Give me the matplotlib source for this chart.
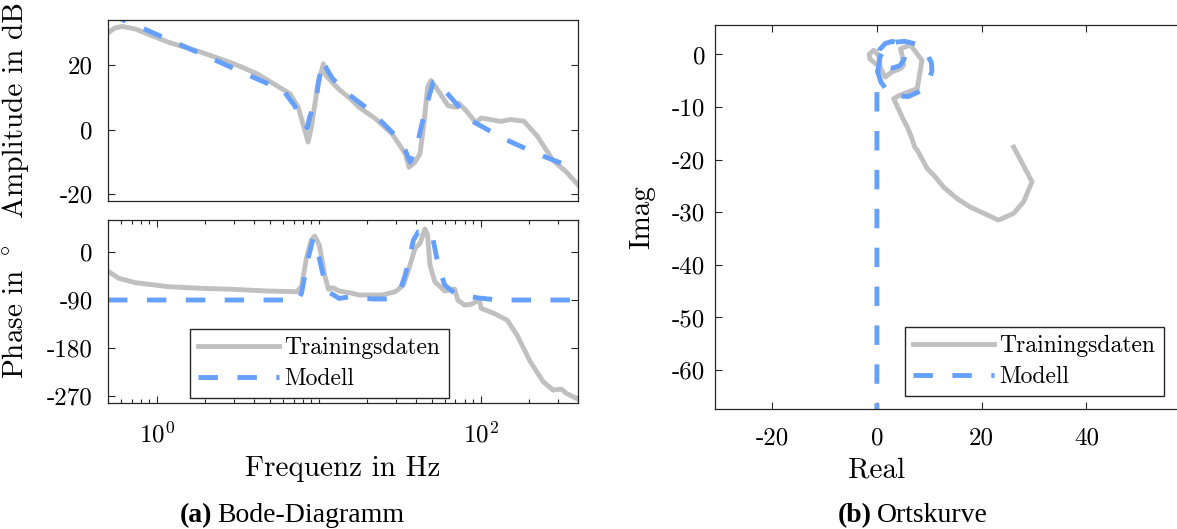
import matplotlib
matplotlib.use("Agg")
import matplotlib.pyplot as plt
import warnings
warnings.simplefilter("ignore")

plt.rcParams['font.family'] = 'serif'
plt.rcParams['font.serif'] = ['cmr10', 'DejaVu Serif']
plt.rcParams['mathtext.fontset'] = 'cm'
plt.rcParams['axes.unicode_minus'] = False
plt.rcParams['axes.formatter.use_mathtext'] = False

# Messdaten (Trainingsdaten): Amplitudengang
freq_meas_amp = [0.50, 0.55, 0.612, 0.738, 1.18, 1.88, 3.0, 4.17, 5.52, 6.65, 7.48, 8.22, 8.61,
                 9.02, 9.9, 10.7, 11.1, 13.4, 15.5, 17.8, 22.5, 28.4, 34.3, 36.2, 39.4, 42.3,
                 44.9, 47.1, 49.4, 52.2, 63.0, 70.8, 73.2, 81.3, 93.6, 101, 133, 153, 185,
                 223, 281, 339, 400]
amp_meas = [30.0, 31.5, 32.0, 31.2, 27.1, 24.0, 20.4, 17.3, 13.6, 11.1, 6.9, -0.3, -3.9,
            0.7, 14.2, 20.4, 16.7, 12.4, 9.8, 6.9, 3.3, -1.3, -7.5, -11.7, -10.1, -7.5,
            2.8, 13.1, 15.2, 13.6, 7.4, 6.9, 8.2, 5.9, 2.1, 3.6, 2.5, 3.1, 2.6,
            -1.9, -9.6, -13.2, -17.2]

# Modell: Amplitudengang
freq_mod_amp = [0.50, 0.672, 1.88, 4.17, 6.06, 7.1, 8.0, 8.5, 8.8, 9.7, 10.0, 10.6, 11.3,
                12.2, 14.7, 21.4, 29.8, 34.3, 36.7, 40.3, 45.4, 51.0, 54.7, 60.1, 87.3,
                140, 223, 400]
amp_mod = [36.0, 33.3, 23.5, 15.7, 12.1, 7.4, 2.8, 0.5, 3.8, 10.0, 15.0, 21.4, 18.5,
           15.8, 11.6, 5.4, -1.9, -6.5, -10.1, -5.5, 5.9, 14.7, 15.0, 12.1, 2.8,
           -2.9, -7.5, -12.5]

# Messdaten: Phasengang
freq_meas_ph = [0.50, 0.584, 0.738, 1.18, 1.88, 3.0, 4.8, 7.31, 7.84, 8.4, 9.0, 9.46, 10.1,
                10.9, 11.5, 12.2, 13.4, 15.5, 17.8, 24.7, 29.8, 33.4, 36.7, 39.4, 42.3,
                45.4, 47.1, 48.7, 52.2, 60.1, 69.2, 72.4, 79.5, 87.3, 98.2, 101, 121,
                146, 168, 203, 244, 281, 316, 339, 400]
phase_meas = [-36, -49.3, -57.5, -65, -68.1, -70, -73.1, -74.4, -65, -11.9, 22, 30, 13.1,
              -43.1, -70, -66.9, -73.1, -76.3, -80.6, -80.6, -74.4, -61.9, -24.4, 6.9, 16.3,
              43.1, 31.9, -24.4, -55.6, -73.1, -69.4, -90, -99.4, -98.1, -90, -105.6, -115,
              -127.5, -155.6, -205.6, -243.1, -258.8, -256.9, -265, -276]

# Modell: Phasengang
freq_mod_ph = [0.50, 7.45, 7.84, 8.61, 9.23, 9.9, 10.6, 11.4, 13.4, 15.5, 21.4, 26.4, 31.9,
               34.3, 36.7, 38.5, 41.3, 47.5, 51.0, 54.7, 60.1, 69.2, 95.9, 130, 400]
phase_mod = [-90, -90, -77, -12, 25, 0, -40, -74, -87, -84, -88, -88, -71,
             -43, -5.6, 22.5, 38, 38, 22.5, -24, -62, -77, -86, -90, -90]

# Ortskurve der Messdaten
re_meas = [26.1, 29.6, 28.0, 26.1, 23.2, 20.4, 17.8, 15.3, 12.7, 11.4, 10.8, 9.6, 8.9, 7.7,
           7.2, 6.7, 5.8, 5.3, 4.5, 3.2, 4.5, 7.7, 8.6, 6.4, 4.5, 4.8, 5.1, 4.5, 2.9, 1.6,
           0.7, 0.3, -0.6, -1.5, -1.3, -0.3]
im_meas = [-17.6, -24.2, -28.0, -30.2, -31.5, -30.2, -29.0, -27.4, -25.2, -23.6, -22.9, -21.7,
           -20.4, -18.2, -17.6, -16.0, -13.8, -12.9, -11.2, -8.4, -7.7, -6.5, -1.1, 1.8, 1.1,
           -0.1, -2.0, -2.7, -3.3, -4.3, -2.7, -0.1, 0.8, 0.0, -0.9, -1.7]

# Ortskurve des Modells
re_mod = [0.0, 0.0, 0.2, 0.6, 1.6, 3.2, 5.3, 7.4, 9.2, 10.4, 10.5, 9.8, 8.2, 6.0, 3.8, 2.0,
          0.8, 0.2, 0.1, 0.5, 1.6, 3.0, 4.4, 5.2, 5.2, 4.4, 3.0, 1.6, 0.6, 0.2, 0.0]
im_mod = [-70.0, -6.0, -3.0, -0.5, 1.4, 2.3, 2.5, 2.0, 0.6, -1.5, -3.2, -5.2, -7.0, -8.0,
          -7.9, -6.9, -5.3, -3.5, -1.2, 0.9, 2.1, 2.5, 1.9, 0.6, -0.9, -2.1, -2.6, -2.2,
          -1.3, -0.5, -0.1]

gray = '#c0c0c0'
blue = '#66a0ff'
dash = (0, (4.0, 4.0))
lw = 3.5
tick_font = 18
label_font = 21

fig = plt.figure(figsize=(11.77, 5.29), dpi=100)
W, H = 1177.0, 529.0
ax_amp = fig.add_axes([108 / W, 1 - 201 / H, 470 / W, 181 / H])
ax_ph = fig.add_axes([108 / W, 1 - 403 / H, 470 / W, 183 / H])
ax_ny = fig.add_axes([715 / W, 1 - 409 / H, 470 / W, 384 / H])

for ax in (ax_amp, ax_ph, ax_ny):
    for s in ax.spines.values():
        s.set_color('#262626')
        s.set_linewidth(0.9)
    ax.tick_params(which='both', direction='in', top=True, right=True,
                   color='#262626', labelsize=tick_font, width=0.8)
    ax.tick_params(which='major', length=5)
    ax.tick_params(which='minor', length=3)

# Amplitude
ax_amp.plot(freq_meas_amp, amp_meas, color=gray, lw=lw, solid_joinstyle='round')
ax_amp.plot(freq_mod_amp, amp_mod, color=blue, lw=lw, linestyle=dash)
ax_amp.set_xscale('log')
ax_amp.set_xlim(0.5, 400)
ax_amp.set_ylim(-22.2, 34)
ax_amp.set_xticks([])
ax_amp.set_xticks([], minor=True)
ax_amp.set_yticks([-20, 0, 20])
ax_amp.tick_params(axis='y', pad=11)
ax_amp.set_ylabel('Amplitude in dB', fontsize=label_font)
ax_amp.yaxis.set_label_coords(-0.168, 0.5)

# Phase
ax_ph.plot(freq_meas_ph, phase_meas, color=gray, lw=lw, label='Trainingsdaten',
           solid_joinstyle='round')
ax_ph.plot(freq_mod_ph, phase_mod, color=blue, lw=lw, linestyle=dash, label='Modell')
ax_ph.set_xscale('log')
ax_ph.set_xlim(0.5, 400)
ax_ph.set_ylim(-283, 60)
ax_ph.set_yticks([-270, -180, -90, 0])
ax_ph.set_xticks([1, 100])
minor = [m * 10.0 ** e for e in (-1, 0, 1, 2) for m in range(1, 10)]
minor = [v for v in minor if 0.5 <= v <= 400 and v not in (1, 100)]
ax_ph.set_xticks(minor, minor=True)
ax_ph.set_xticklabels([], minor=True)
ax_ph.tick_params(axis='y', pad=11)
ax_ph.tick_params(axis='x', pad=13)
ax_ph.set_ylabel('Phase in $^\\circ$', fontsize=label_font)
ax_ph.yaxis.set_label_coords(-0.168, 0.5)
ax_ph.set_xlabel('Frequenz in Hz', fontsize=label_font)
ax_ph.xaxis.set_label_coords(0.5, -0.29)

leg = ax_ph.legend(loc='upper left', bbox_to_anchor=(190 / W, 1 - 329 / H),
                   bbox_transform=fig.transFigure, fontsize=17, handlelength=3.4,
                   handletextpad=0.25, borderpad=0.35, labelspacing=0.35,
                   borderaxespad=0, fancybox=False, framealpha=1)
leg.get_frame().set_edgecolor('#262626')
leg.get_frame().set_linewidth(1.0)

# Ortskurve
ax_ny.plot(re_meas, im_meas, color=gray, lw=lw, label='Trainingsdaten',
           solid_joinstyle='round')
ax_ny.plot(re_mod, im_mod, color=blue, lw=lw, linestyle=dash, label='Modell')
ax_ny.set_xlim(-30.9, 58.8)
ax_ny.set_ylim(-67.4, 5.6)
ax_ny.set_xticks([-20, 0, 20, 40])
ax_ny.set_yticks([-60, -50, -40, -30, -20, -10, 0])
ax_ny.tick_params(axis='y', pad=7)
ax_ny.tick_params(axis='x', pad=13)
ax_ny.set_xlabel('Real', fontsize=label_font)
ax_ny.xaxis.set_label_coords((876.5 - 715) / 470, -0.125)
ax_ny.set_ylabel('Imag', fontsize=label_font)
ax_ny.yaxis.set_label_coords(-0.128, 0.5)

leg2 = ax_ny.legend(loc='upper left', bbox_to_anchor=(905 / W, 1 - 327 / H),
                    bbox_transform=fig.transFigure, fontsize=17, handlelength=3.4,
                    handletextpad=0.25, borderpad=0.35, labelspacing=0.35,
                    borderaxespad=0, fancybox=False, framealpha=1)
leg2.get_frame().set_edgecolor('#262626')
leg2.get_frame().set_linewidth(1.0)

# Unterschriften
cap = dict(fontsize=20, family='Liberation Serif', va='baseline')
fig.text(212 / W, 1 - 522 / H, '(a)', ha='right', weight='bold', **cap)
fig.text(217 / W, 1 - 522 / H, 'Bode-Diagramm', ha='left', **cap)
fig.text(872 / W, 1 - 522 / H, '(b)', ha='right', weight='bold', **cap)
fig.text(877 / W, 1 - 522 / H, 'Ortskurve', ha='left', **cap)

fig.savefig('out.png', dpi=100)
